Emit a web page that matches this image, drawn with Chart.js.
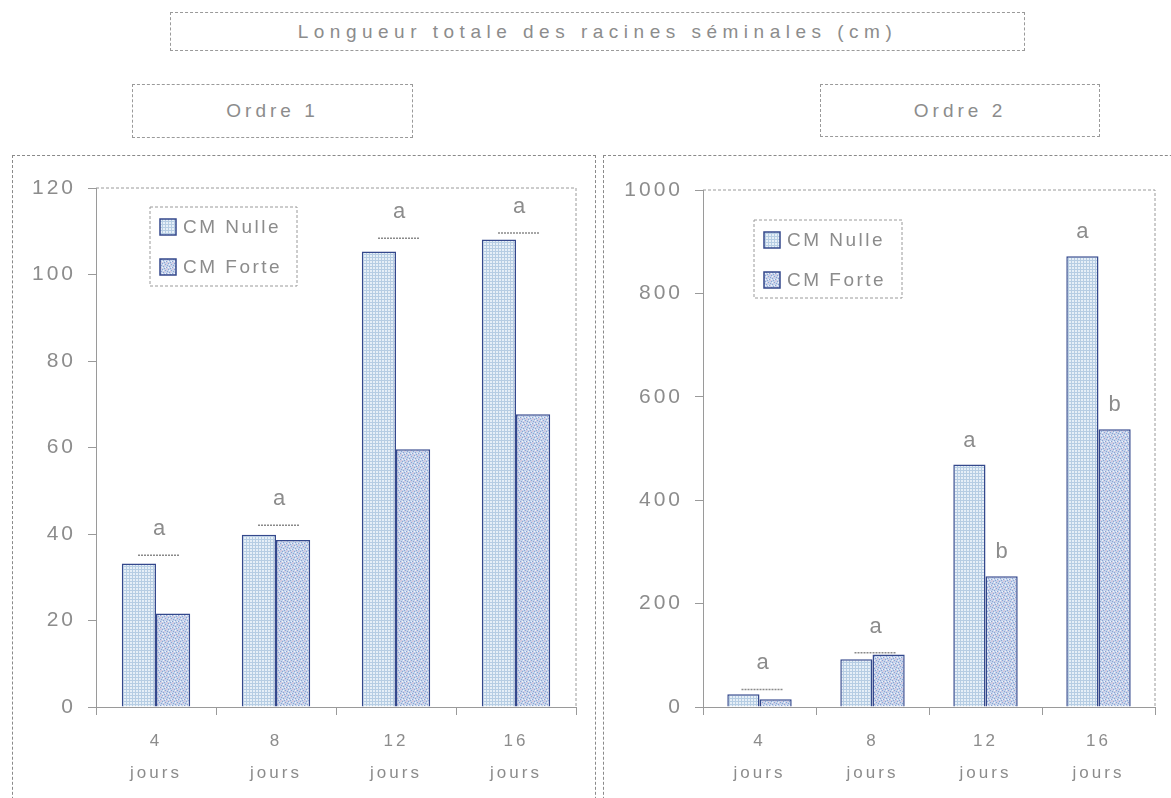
<!DOCTYPE html>
<html>
<head>
<meta charset="utf-8">
<script src="https://cdn.jsdelivr.net/npm/chart.js@4.4.1/dist/chart.umd.min.js"></script>
<style>
body { margin: 0; background: #fff; font-family: "Liberation Sans", Arial, sans-serif; color: #8c8c8c; }
#page { position: relative; width: 1171px; height: 798px; overflow: hidden; }
.box { position: absolute; border: 1px dashed #9a9a9a; box-sizing: border-box; display: flex; align-items: center; justify-content: center; font-size: 19px; letter-spacing: 4px; color: #8c8c8c; }
.panel { position: absolute; border: 1px dashed #8a8a8a; box-sizing: border-box; }
.wrap { position: absolute; }
</style>
</head>
<body>
<div id="page">
  <div class="box" style="left:170px;top:12px;width:855px;height:39px;letter-spacing:5.5px;">Longueur totale des racines séminales (cm)</div>
  <div class="box" style="left:132px;top:84px;width:281px;height:54px;">Ordre 1</div>
  <div class="box" style="left:820px;top:84px;width:280px;height:53px;">Ordre 2</div>
  <div class="panel" style="left:12px;top:155px;width:584px;height:700px;"></div>
  <div class="panel" style="left:603px;top:155px;width:620px;height:700px;"></div>
  <div class="wrap" style="left:12px;top:155px;width:583px;height:643px;"><canvas id="ordre1"></canvas></div>
  <div class="wrap" style="left:603px;top:155px;width:568px;height:643px;"><canvas id="ordre2"></canvas></div>
</div>
<script>
// categories (days)
const categories = [['4', 'jours'], ['8', 'jours'], ['12', 'jours'], ['16', 'jours']];
const seriesNames = ['CM Nulle', 'CM Forte'];

// Ordre 1 (cm)
const ordre1Nulle = [33.2, 39.8, 105.3, 108.1];
const ordre1Forte = [21.6, 38.6, 59.6, 67.7];
const ordre1Err = [35.1, 42, 108.4, 109.6];
const ordre1Letters = [['a'], ['a'], ['a'], ['a']];

// Ordre 2 (cm)
const ordre2Nulle = [24.6, 92.5, 469, 872];
const ordre2Forte = [15, 101.6, 253, 537];
const ordre2Err = [34, 105, null, null];
const ordre2Letters = [['a'], ['a'], ['a', 'b'], ['a', 'b']];

const grey = '#8c8c8c';

// fill textures like the scanned bars
function gridPattern() {
  const c = document.createElement('canvas');
  c.width = 3; c.height = 3;
  const g = c.getContext('2d');
  g.fillStyle = '#e6eff7'; g.fillRect(0, 0, 3, 3);
  g.fillStyle = '#b6cde3'; g.fillRect(0, 0, 3, 1); g.fillRect(0, 0, 1, 3);
  return g.createPattern(c, 'repeat');
}
function speckPattern() {
  const c = document.createElement('canvas');
  c.width = 6; c.height = 6;
  const g = c.getContext('2d');
  g.fillStyle = '#c6d4eb'; g.fillRect(0, 0, 6, 6);
  g.fillStyle = '#8aa3d4';
  [[0, 0], [3, 1], [1, 3], [4, 4], [5, 2], [2, 5]].forEach(p => g.fillRect(p[0], p[1], 1, 1));
  g.fillStyle = '#dcc3d8';
  [[2, 2], [5, 5], [4, 0]].forEach(p => g.fillRect(p[0], p[1], 1, 1));
  g.fillStyle = '#eef3fa';
  [[1, 1], [3, 4], [0, 4]].forEach(p => g.fillRect(p[0], p[1], 1, 1));
  return g.createPattern(c, 'repeat');
}
const fills = [gridPattern(), speckPattern()];

// plot frame (top + right), legend box, mean lines and letters
const decor = {
  id: 'decor',
  beforeDraw(chart) {
    chart.ctx.letterSpacing = '3px';
  },
  afterDatasetsDraw(chart, args, opts) {
    const ctx = chart.ctx, a = chart.chartArea;
    const xs = chart.scales.x, ys = chart.scales.y;
    ctx.save();
    // frame
    ctx.strokeStyle = '#9a9a9a'; ctx.lineWidth = 1; ctx.setLineDash([3, 2]);
    ctx.beginPath();
    ctx.moveTo(a.left, a.top); ctx.lineTo(a.right, a.top); ctx.lineTo(a.right, a.bottom);
    ctx.stroke();
    // error lines
    ctx.strokeStyle = '#8a8a8a'; ctx.lineWidth = 1.5; ctx.setLineDash([2, 1]);
    opts.err.forEach((v, i) => {
      if (v == null) return;
      const x = xs.getPixelForValue(i) + 3, y = ys.getPixelForValue(v);
      ctx.beginPath(); ctx.moveTo(x - 21, y); ctx.lineTo(x + 21, y); ctx.stroke();
    });
    ctx.setLineDash([]);
    // letters
    ctx.letterSpacing = '0px';
    ctx.fillStyle = grey; ctx.font = '22px "Liberation Sans", Arial';
    ctx.textAlign = 'center'; ctx.textBaseline = 'middle';
    opts.letters.forEach((ls, i) => {
      if (ls.length === 1) {
        let top = Math.min(chart.getDatasetMeta(0).data[i].y, chart.getDatasetMeta(1).data[i].y);
        if (opts.err[i] != null) top = Math.min(top, ys.getPixelForValue(opts.err[i]));
        ctx.fillText(ls[0], xs.getPixelForValue(i) + 3, top - 26);
      } else {
        ls.forEach((l, d) => {
          const bar = chart.getDatasetMeta(d).data[i];
          ctx.fillText(l, bar.x, bar.y - 24);
        });
      }
    });
    // legend
    const lx = a.left + opts.box[0], ly = a.top + opts.box[1];
    ctx.strokeStyle = '#9a9a9a'; ctx.lineWidth = 1; ctx.setLineDash([3, 2]);
    ctx.strokeRect(lx, ly, opts.box[2], opts.box[3]);
    ctx.setLineDash([]);
    ctx.letterSpacing = '2.5px';
    ctx.font = '19px "Liberation Sans", Arial';
    ctx.textAlign = 'left';
    chart.data.datasets.forEach((ds, d) => {
      const cy = ly + 20 + d * 40;
      ctx.fillStyle = ds.backgroundColor;
      ctx.fillRect(lx + 10, cy - 8, 16, 16);
      ctx.strokeStyle = '#34488c'; ctx.lineWidth = 1.5;
      ctx.strokeRect(lx + 10, cy - 8, 16, 16);
      ctx.fillStyle = grey;
      ctx.fillText(ds.label, lx + 33, cy + 1);
    });
    ctx.restore();
  }
};

function makeChart(id, nulle, forte, err, letters, yMax, yStep, yWidth, pad, box) {
  return new Chart(document.getElementById(id), {
    type: 'bar',
    data: {
      labels: categories,
      datasets: [
        { label: seriesNames[0], data: nulle, backgroundColor: fills[0], borderColor: '#34488c', borderWidth: 1.5 },
        { label: seriesNames[1], data: forte, backgroundColor: fills[1], borderColor: '#34488c', borderWidth: 1.5 }
      ]
    },
    options: {
      responsive: true,
      maintainAspectRatio: false,
      animation: false,
      datasets: { bar: { categoryPercentage: 0.57, barPercentage: 1.0 } },
      layout: { padding: { top: pad[0], right: pad[1], left: 0, bottom: 0 } },
      plugins: {
        legend: { display: false },
        tooltip: { enabled: false },
        decor: { err: err, letters: letters, box: box }
      },
      scales: {
        x: {
          afterFit: s => { s.height = 91; },
          grid: { drawOnChartArea: false, tickLength: 8, color: '#9a9a9a' },
          border: { color: '#9a9a9a', dash: [3, 2] },
          ticks: { color: grey, padding: 11, font: { family: '"Liberation Sans", Arial', size: 17, lineHeight: 1.85 } }
        },
        y: {
          min: 0, max: yMax,
          afterFit: s => { s.width = yWidth; },
          grid: { drawOnChartArea: false, tickLength: 8, color: '#9a9a9a' },
          border: { color: '#9a9a9a', dash: [3, 2] },
          ticks: { stepSize: yStep, color: grey, padding: 12, callback: v => String(v), font: { family: '"Liberation Sans", Arial', size: 21 } }
        }
      }
    },
    plugins: [decor]
  });
}

makeChart('ordre1', ordre1Nulle, ordre1Forte, ordre1Err, ordre1Letters, 120, 20, 84, [33, 19], [54, 19, 147, 79]);
makeChart('ordre2', ordre2Nulle, ordre2Forte, ordre2Err, ordre2Letters, 1000, 200, 100, [35, 16], [51, 30, 148, 78]);
</script>
</body>
</html>
